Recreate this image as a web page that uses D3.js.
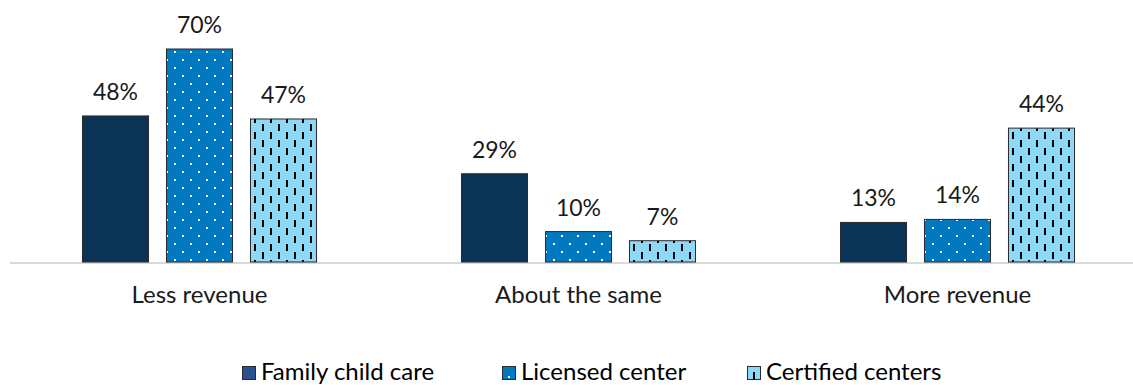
<!DOCTYPE html>
<html>
<head>
<meta charset="utf-8">
<script src="https://cdn.jsdelivr.net/npm/d3@7"></script>
<style>
  html, body { margin: 0; padding: 0; background: #fff; }
  svg { display: block; font-family: Lato, "Open Sans", sans-serif; }
</style>
</head>
<body>
<svg id="chart" width="1133" height="385"></svg>
<script>
// Revenue change by provider type
const categories = ["Less revenue", "About the same", "More revenue"];
const seriesNames = ["Family child care", "Licensed center", "Certified centers"];
const familyValues = [48, 29, 13];
const licensedValues = [70, 10, 14];
const certifiedValues = [47, 7, 44];
const seriesValues = [familyValues, licensedValues, certifiedValues];

const svg = d3.select("#chart");
const baseline = 262;

const x0 = d3.scaleBand().domain(categories).range([10, 1147]).paddingInner(0).paddingOuter(0);
const x1 = d3.scaleBand().domain(seriesNames).range([0, x0.bandwidth()]).paddingInner(0.214).paddingOuter(0.863);
const y = d3.scaleLinear().domain([0, 70]).range([baseline, 49]);

// Fill patterns
const defs = svg.append("defs");
const dots = defs.append("pattern").attr("id", "dots").attr("patternUnits", "userSpaceOnUse")
  .attr("width", 16).attr("height", 16);
dots.append("rect").attr("width", 16).attr("height", 16).attr("fill", "#0079C1");
dots.append("rect").attr("x", 4).attr("y", 3).attr("width", 2).attr("height", 2).attr("fill", "#fff");
dots.append("rect").attr("x", 12).attr("y", 11).attr("width", 2).attr("height", 2).attr("fill", "#fff");

const dash = defs.append("pattern").attr("id", "dashes").attr("patternUnits", "userSpaceOnUse")
  .attr("width", 16).attr("height", 16);
dash.append("rect").attr("width", 16).attr("height", 16).attr("fill", "#8ED8F8");
dash.append("rect").attr("x", 4).attr("y", 4).attr("width", 2).attr("height", 7).attr("fill", "#000");
dash.append("rect").attr("x", 12).attr("y", 12).attr("width", 2).attr("height", 4).attr("fill", "#000");
dash.append("rect").attr("x", 12).attr("y", 0).attr("width", 2).attr("height", 3).attr("fill", "#000");

const fills = d3.scaleOrdinal().domain(seriesNames).range(["#0B3356", "url(#dots)", "url(#dashes)"]);
const legendFills = d3.scaleOrdinal().domain(seriesNames).range(["#2A4F8F", "#0079C1", "#8ED8F8"]);

// Axis baseline
svg.append("line").attr("x1", 10).attr("x2", 1133).attr("y1", baseline + 1).attr("y2", baseline + 1)
  .attr("stroke", "#D9D9D9").attr("stroke-width", 2);

// Bars and value labels
const groups = svg.selectAll("g.grp").data(categories).join("g")
  .attr("class", "grp").attr("transform", d => `translate(${x0(d)},0)`);

groups.each(function(cat, ci) {
  const g = d3.select(this);
  const rows = seriesNames.map((s, si) => ({ s, v: seriesValues[si][ci] }));
  g.selectAll("rect").data(rows).join("rect")
    .attr("x", d => x1(d.s))
    .attr("y", d => y(d.v))
    .attr("width", x1.bandwidth())
    .attr("height", d => baseline - y(d.v))
    .attr("fill", d => fills(d.s))
    .attr("stroke", "#2B2B2B")
    .attr("stroke-width", 1);
  g.selectAll("text.val").data(rows).join("text")
    .attr("class", "val")
    .attr("x", d => x1(d.s) + x1.bandwidth() / 2)
    .attr("y", d => y(d.v) - 16)
    .attr("text-anchor", "middle")
    .attr("font-size", 23)
    .attr("fill", "#1A1A1A")
    .text(d => d.v + "%");
});

// Category labels
svg.selectAll("text.cat").data(categories).join("text")
  .attr("class", "cat")
  .attr("x", d => x0(d) + x0.bandwidth() / 2)
  .attr("y", 303)
  .attr("text-anchor", "middle")
  .attr("font-size", 24)
  .attr("fill", "#1A1A1A")
  .text(d => d);

// Legend
const legendX = [242, 502, 747];
const lg = svg.selectAll("g.leg").data(seriesNames).join("g")
  .attr("class", "leg").attr("transform", (d, i) => `translate(${legendX[i]},366)`);
lg.append("rect").attr("width", 13).attr("height", 13).attr("x", 0.5).attr("y", 0.5)
  .attr("fill", d => legendFills(d)).attr("stroke", "#2B2B2B").attr("stroke-width", 1);
lg.filter((d, i) => i === 1).append("rect").attr("x", 6).attr("y", 10).attr("width", 2).attr("height", 2).attr("fill", "#fff");
lg.filter((d, i) => i === 2).append("rect").attr("x", 6).attr("y", 6).attr("width", 2).attr("height", 7).attr("fill", "#000");
lg.append("text").attr("x", 19).attr("y", 14).attr("font-size", 24).attr("fill", "#000").text(d => d);
</script>
</body>
</html>
